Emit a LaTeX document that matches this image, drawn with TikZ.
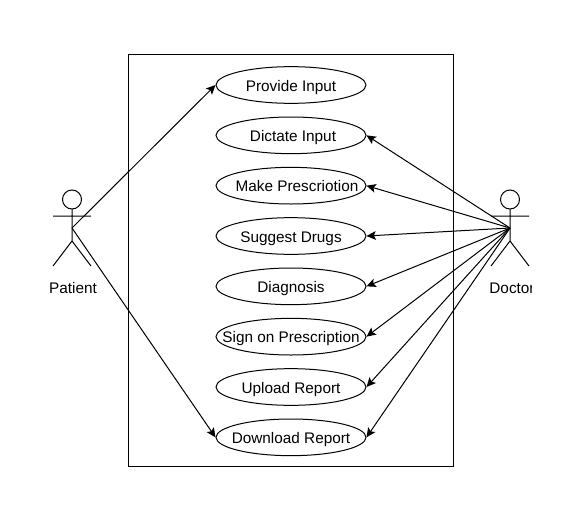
\documentclass[tikz,border=0pt]{standalone}
\usepackage{fontspec}
\setmainfont{Liberation Sans}
\usetikzlibrary{shapes.geometric,arrows.meta,positioning}
\tikzset{
  usecase/.style={draw,ellipse,minimum width=112.5pt,minimum height=27.5pt,inner xsep=-30pt,inner ysep=0pt,text height=9pt,text depth=0pt},
  actorlabel/.style={inner sep=0pt},
  assoc/.style={-{Stealth[length=7pt,width=6.5pt,inset=1.5pt]}},
  actor/.pic={
    \draw (0,-28.5) circle (9.5);
    \draw (0,-19) -- (0,13) (-19,-12) -- (19,-12) (-19,38) -- (0,13) -- (19,38);
  }
}
\begin{document}
\begin{tikzpicture}[x=0.75pt,y=-0.75pt,line width=0.75pt,every node/.style={font=\fontsize{11.5}{13}\selectfont},node distance=9.5pt]
\useasboundingbox (0,0) rectangle (567,521);
\node[draw,minimum width=243.75pt,minimum height=309pt,inner sep=0pt] (system) at (290.5,260) {};
% use cases
\node[usecase] (provide) at (291,85) {Provide Input};
\node[usecase,below=of provide] (dictate) {\kern3pt Dictate Input};
\node[usecase,below=of dictate] (make) {\kern9pt Make Prescriotion};
\node[usecase,below=of make] (suggest) {Suggest Drugs};
\node[usecase,below=of suggest] (diagnosis) {Diagnosis};
\node[usecase,below=of diagnosis] (sign) {Sign on Prescription};
\node[usecase,below=of sign] (upload) {Upload Report};
\node[usecase,below=of upload] (download) {Download Report};
% actors
\coordinate (patient) at (72,228);
\coordinate (doctor) at (510,228);
\pic at (patient) {actor};
\pic at (doctor) {actor};
\node[actorlabel] (patientlabel) at (73,288) {Patient};
\begin{scope}
\clip (440,270) rectangle (531,310);
\node[actorlabel] (doctorlabel) at (512,288) {Doctor};
\end{scope}
% associations
\draw[assoc] (patient) -- (provide.west);
\draw[assoc] (patient) -- (download.west);
\foreach \uc in {dictate,make,suggest,diagnosis,sign,upload,download}
  \draw[assoc] (doctor) -- (\uc.east);
\end{tikzpicture}
\end{document}
